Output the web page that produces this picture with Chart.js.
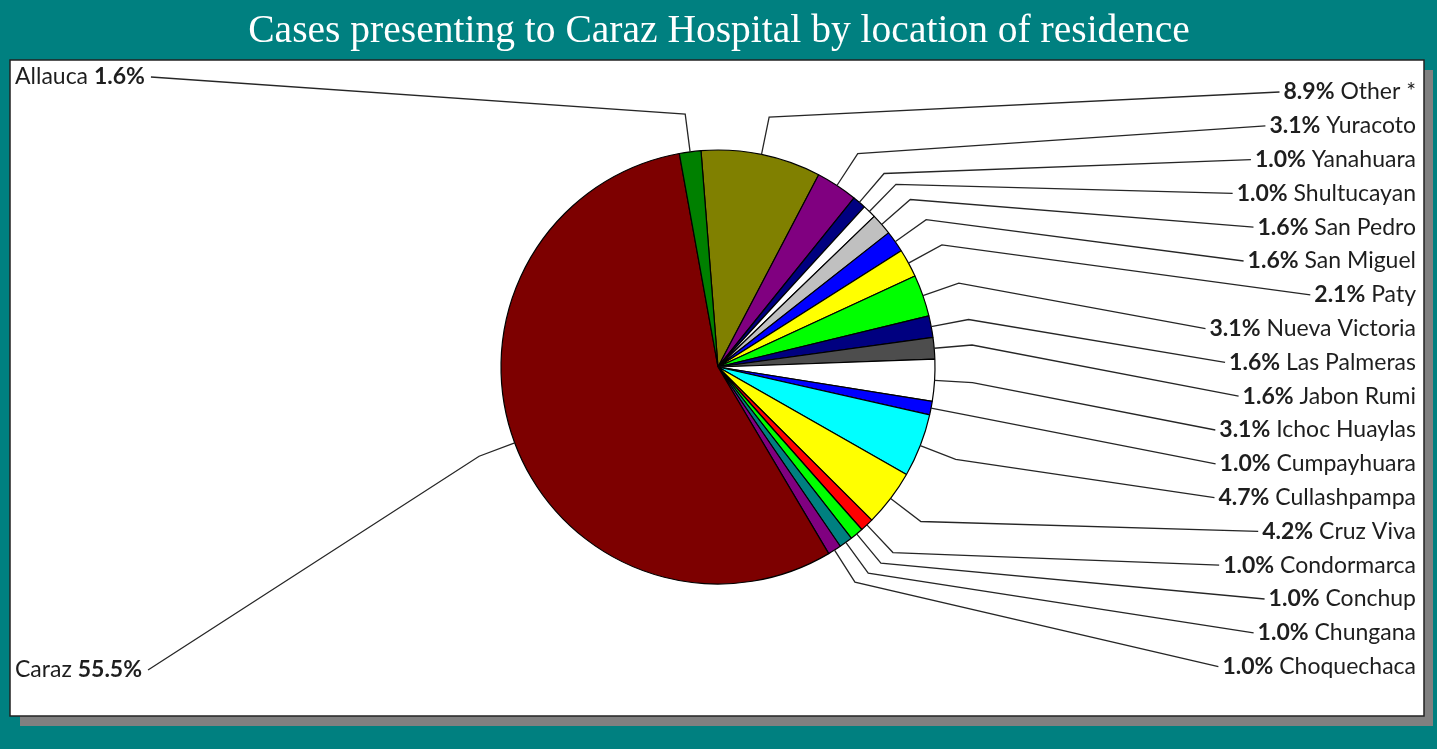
<!DOCTYPE html>
<html>
<head>
<meta charset="utf-8">
<script src="https://cdn.jsdelivr.net/npm/chart.js@4.4.1/dist/chart.umd.min.js"></script>
<style>
  html, body { margin: 0; padding: 0; background: #008080; overflow: hidden; }
  canvas { display: block; }
</style>
</head>
<body>
<canvas id="chart" width="1437" height="749"></canvas>
<script>
const titleText = 'Cases presenting to Caraz Hospital by location of residence';

// slices, clockwise from the top
const places = ['Other *', 'Yuracoto', 'Yanahuara', 'Shultucayan', 'San Pedro', 'San Miguel', 'Paty',
  'Nueva Victoria', 'Las Palmeras', 'Jabon Rumi', 'Ichoc Huaylas', 'Cumpayhuara', 'Cullashpampa',
  'Cruz Viva', 'Condormarca', 'Conchup', 'Chungana', 'Choquechaca', 'Caraz', 'Allauca'];
const percents = [8.9, 3.1, 1.0, 1.0, 1.6, 1.6, 2.1, 3.1, 1.6, 1.6, 3.1, 1.0, 4.7, 4.2, 1.0, 1.0, 1.0, 1.0, 55.5, 1.6];
const sliceColors = ['#808000', '#800080', '#000080', '#ffffff', '#c0c0c0', '#0000ff', '#ffff00',
  '#00ff00', '#000080', '#4d4d4d', '#ffffff', '#0000ff', '#00ffff',
  '#ffff00', '#ff0000', '#00ff00', '#008080', '#800080', '#7d0000', '#008000'];

const labelFont = '"Lato", "Open Sans", sans-serif';
const labelSize = 23;
const textColor = '#1e1e1e';

// the white panel behind the pie, with its grey drop shadow, and the title
const framePlugin = {
  id: 'frame',
  beforeDraw(chart) {
    const ctx = chart.ctx;
    ctx.save();
    ctx.fillStyle = '#008080';
    ctx.fillRect(0, 0, chart.width, chart.height);
    ctx.fillStyle = '#808080';
    ctx.fillRect(20, 70, 1413, 656);
    ctx.fillStyle = '#ffffff';
    ctx.fillRect(10, 60, 1414, 656);
    ctx.strokeStyle = '#222';
    ctx.lineWidth = 1.5;
    ctx.strokeRect(10, 60, 1414, 656);

    // title, sized to the width it has in the original
    let size = 36;
    ctx.font = size + 'px "Liberation Serif", serif';
    size = size * 942 / ctx.measureText(titleText).width;
    ctx.font = size + 'px "Liberation Serif", serif';
    ctx.fillStyle = '#ffffff';
    ctx.textAlign = 'center';
    ctx.textBaseline = 'alphabetic';
    ctx.fillText(titleText, 719, 42);
    ctx.restore();
  }
};

// leader lines and "bold percent + name" labels
const labelPlugin = {
  id: 'pieLabels',
  afterDatasetsDraw(chart) {
    const ctx = chart.ctx;
    const arcs = chart.getDatasetMeta(0).data;
    const right = [], left = [];
    arcs.forEach((arc, i) => {
      const a = (arc.startAngle + arc.endAngle) / 2;
      const r = arc.outerRadius;
      const item = {
        i,
        edge: [arc.x + r * Math.cos(a), arc.y + r * Math.sin(a)],
        bend: [arc.x + (r + 38) * Math.cos(a), arc.y + (r + 38) * Math.sin(a)]
      };
      (Math.cos(a) < 0 ? left : right).push(item);
    });

    ctx.save();
    ctx.textBaseline = 'middle';
    ctx.fillStyle = textColor;
    ctx.strokeStyle = '#262626';
    ctx.lineWidth = 1.3;
    const plain = labelSize + 'px ' + labelFont;
    const bold = 'bold ' + labelSize + 'px ' + labelFont;

    right.forEach((it, k) => {
      const y = 92 + k * 33.8;
      const name = ' ' + places[it.i];
      const pct = percents[it.i].toFixed(1) + '%';
      ctx.textAlign = 'right';
      ctx.font = plain;
      ctx.fillText(name, 1416, y);
      const w1 = ctx.measureText(name).width;
      ctx.font = bold;
      ctx.fillText(pct, 1416 - w1, y);
      const w2 = ctx.measureText(pct).width;
      ctx.beginPath();
      ctx.moveTo(it.edge[0], it.edge[1]);
      ctx.lineTo(it.bend[0], it.bend[1]);
      ctx.lineTo(1416 - w1 - w2 - 4, y);
      ctx.stroke();
    });

    left.sort((a, b) => a.bend[1] - b.bend[1]);
    const leftY = [77, 670];
    left.forEach((it, k) => {
      const y = leftY[k];
      const name = places[it.i] + ' ';
      const pct = percents[it.i].toFixed(1) + '%';
      ctx.textAlign = 'left';
      ctx.font = plain;
      ctx.fillText(name, 15, y);
      const w1 = ctx.measureText(name).width;
      ctx.font = bold;
      ctx.fillText(pct, 15 + w1, y);
      const w2 = ctx.measureText(pct).width;
      ctx.beginPath();
      ctx.moveTo(it.edge[0], it.edge[1]);
      ctx.lineTo(it.bend[0], it.bend[1]);
      ctx.lineTo(15 + w1 + w2 + 6, y);
      ctx.stroke();
    });
    ctx.restore();
  }
};

new Chart(document.getElementById('chart').getContext('2d'), {
  type: 'pie',
  data: {
    labels: places,
    datasets: [{
      data: percents,
      backgroundColor: sliceColors,
      borderColor: '#000',
      borderWidth: 1.2,
      radius: 217
    }]
  },
  options: {
    responsive: false,
    devicePixelRatio: 1,
    animation: false,
    rotation: -4.5,
    layout: { padding: { left: 300, right: 301, top: 100, bottom: 115 } },
    plugins: {
      legend: { display: false },
      tooltip: { enabled: false },
      title: { display: false }
    }
  },
  plugins: [framePlugin, labelPlugin]
});
</script>
</body>
</html>
